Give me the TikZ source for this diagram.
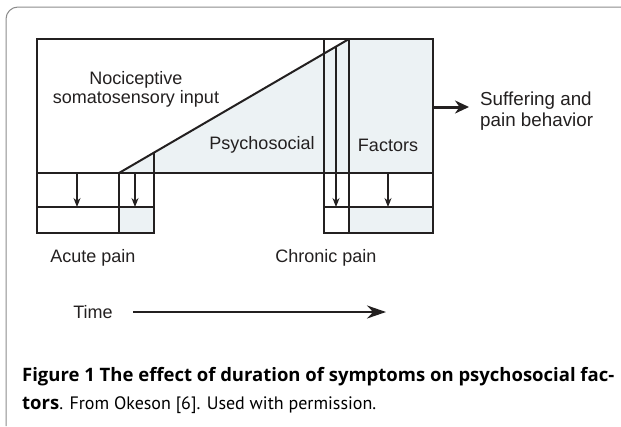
\documentclass[tikz,border=0pt]{standalone}
\usepackage{fontspec}
\setmainfont{Liberation Sans}
\newfontfamily\capfont{Open Sans}
\newfontfamily\capregfont{PT Sans}
\usetikzlibrary{arrows.meta}
\definecolor{paleblue}{RGB}{236,242,244}
\definecolor{ink}{RGB}{35,32,32}
\definecolor{framec}{RGB}{140,140,140}
\begin{document}
\begin{tikzpicture}[x=1pt,y=-1pt,
  boxline/.style={draw=ink,line width=1.5pt},
  downarr/.style={draw=ink,line width=1.2pt,-{Stealth[length=9pt,width=7pt]}},
  lbl/.style={inner sep=0pt,font=\fontsize{18}{19}\selectfont,text=ink,align=center},
  captext/.style={inner sep=0pt,anchor=base west,font=\capfont\fontsize{18.5}{20}\selectfont,text=black}]
\useasboundingbox (0,0) rectangle (621,426);
\fill[white] (0,0) rectangle (621,426);
% frame
\draw[framec,line width=1pt] (6,426) -- (6,19) arc[start angle=180,end angle=270,radius=12] -- (621,7);
% coordinates
\coordinate (TL) at (37,39);
\coordinate (TR) at (433,39);
\coordinate (D0) at (119,173);
\coordinate (D1) at (349,39);
% shading
\fill[paleblue] (D0) -- (D1) -- (TR) -- (433,173) -- cycle;
\fill[paleblue] (119,207) rectangle (154,233);
\fill[paleblue] (349,207) rectangle (433,233);
% main box
\draw[boxline] (TL) rectangle (433,173);
\draw[boxline] (37,173) rectangle (154,233);
\draw[boxline] (37,207) -- (154,207);
\draw[boxline] (119,173) -- (119,233);
\draw[boxline] (154,152.6) -- (154,173);
\draw[boxline] (324,39) -- (324,233) -- (433,233) -- (433,173);
\draw[boxline] (324,207) -- (433,207);
\draw[boxline] (349,39) -- (349,233);
\draw[draw=ink,line width=2pt] (D0) -- (D1);
% arrows in lower boxes
\coordinate (a1s) at (77,173); \coordinate (a1e) at (77,207);
\coordinate (a2s) at (135,173); \coordinate (a2e) at (135,207);
\coordinate (a3s) at (336,45.5); \coordinate (a3e) at (336,207);
\coordinate (a4s) at (388,173); \coordinate (a4e) at (388,207);
\draw[downarr] (a1s) -- (a1e);
\draw[downarr] (a2s) -- (a2e);
\draw[downarr] (a3s) -- (a3e);
\draw[downarr] (a4s) -- (a4e);
% labels
\node[lbl] (noci) at (136,89) {Nociceptive\\somatosensory input};
\node[lbl] (psy) at (262,145) {Psychosocial};
\node[lbl] (fac) at (388,145) {Factors};
\node[lbl,align=left,anchor=west,font=\fontsize{18.8}{20.5}\selectfont] (suff) at (480,111) {Suffering and\\pain behavior};
\coordinate (sa) at (433,107);
\coordinate (sb) at (469,107);
\draw[draw=ink,line width=3pt,-{Stealth[length=14pt,width=13pt]}] (sa) -- (sb);
\node[lbl] (acute) at (93,258) {Acute pain};
\node[lbl] (chronic) at (326,258) {Chronic pain};
\node[lbl] (time) at (93,312) {Time};
\coordinate (ta) at (133,312);
\coordinate (tb) at (386,312);
\draw[draw=ink,line width=2.4pt,-{Stealth[length=19pt,width=13pt]}] (ta) -- (tb);
% caption
\node[captext] (cap1) at (22,381) {\bfseries Figure 1 The effect of duration of symptoms on psychosocial fac-};
\node[captext] (cap2) at (22,409) {\textbf{tors}{\capregfont\fontsize{18}{20}\selectfont. From Okeson [6]. Used with permission.}};
\end{tikzpicture}
\end{document}
